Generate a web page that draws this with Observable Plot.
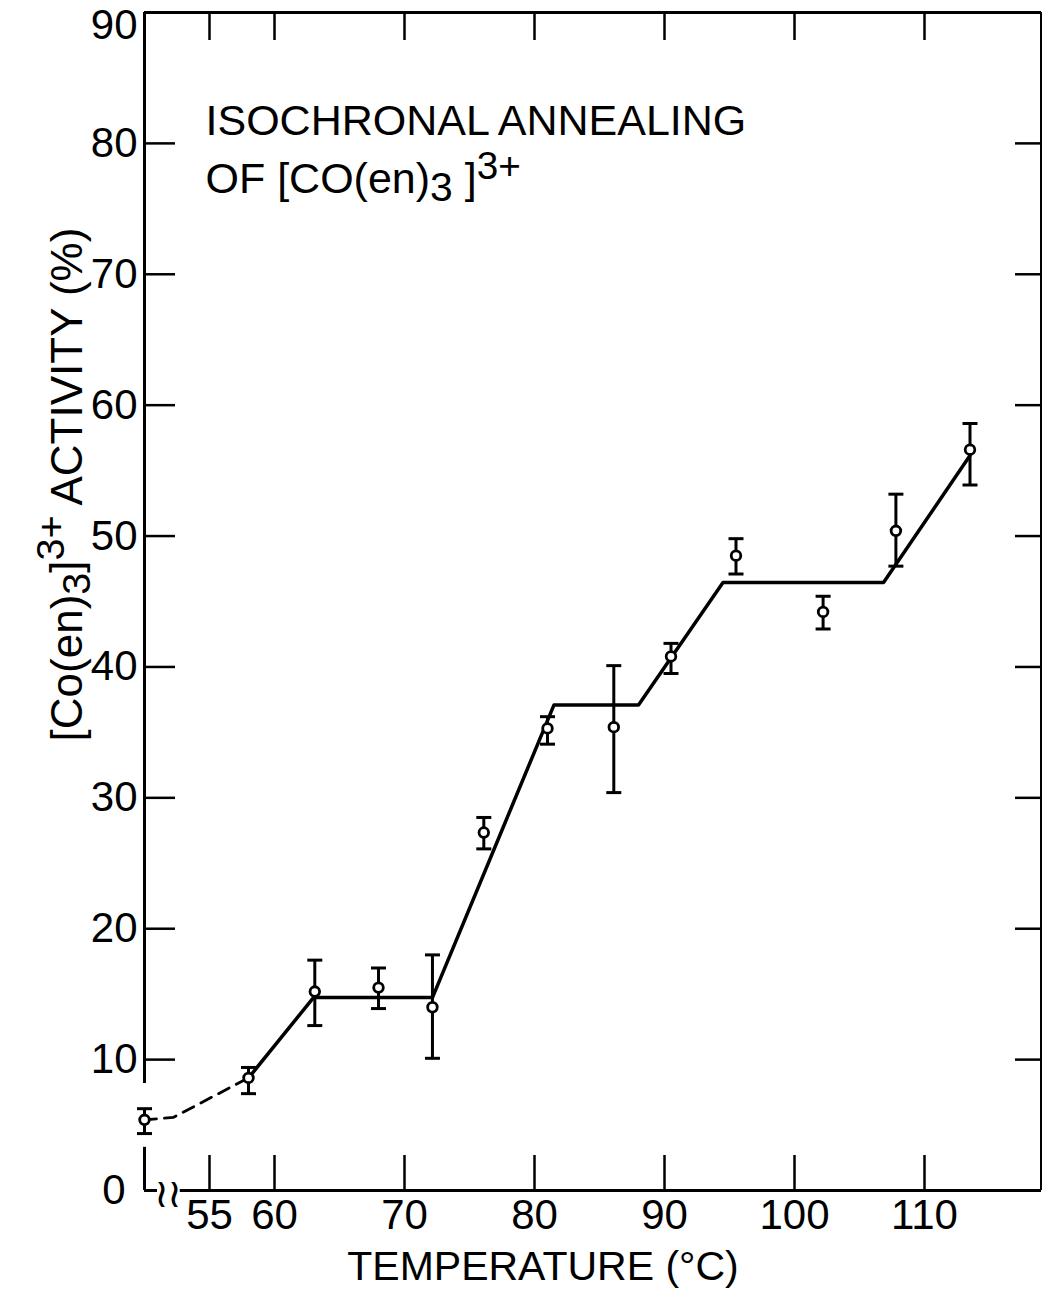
<!DOCTYPE html>
<html><head><meta charset="utf-8">
<script src="https://cdn.jsdelivr.net/npm/d3@7"></script>
<script src="https://cdn.jsdelivr.net/npm/@observablehq/plot@0.6"></script>
<style>
body{margin:0;background:#fff;}
#chart svg{display:block;overflow:visible}
</style></head><body><div id="chart"></div>
<script>
// Data
const temperature = [50, 58.0, 63.1, 68.0, 72.15, 76.1, 81.0, 86.1, 90.5, 95.5, 102.2, 107.8, 113.5];
const activity    = [5.4, 8.6, 15.2, 15.5, 14.0, 27.35, 35.3, 35.4, 40.8, 48.5, 44.2, 50.4, 56.6];
const errLow      = [4.35, 7.4, 12.6, 13.9, 10.1, 26.1, 34.1, 30.4, 39.5, 47.1, 42.9, 47.7, 53.9];
const errHigh     = [6.25, 9.4, 17.6, 17.0, 18.0, 28.5, 36.2, 40.1, 41.8, 49.8, 45.4, 53.2, 58.6];
const fitT = [58.0, 63.0, 72.15, 81.5, 88.0, 94.5, 106.85, 113.5];
const fitA = [8.6, 14.74, 14.74, 37.1, 37.1, 46.45, 46.45, 56.15];
const dashT = [50, 52.2, 58.0];
const dashA = [5.4, 5.58, 8.6];
const xTicks = [55, 60, 70, 80, 90, 100, 110];
const yTicks = [10, 20, 30, 40, 50, 60, 70, 80];
const xDomain = [50, 119];
const yDomain = [0, 90];
const leftAxisSegments = [[8.17, 90], [0, 3.3]];
const bottomAxisSegments = [[50, 51.0], [52.75, 119]];
const breakMarks = [51.3, 52.3];
const titleLine1 = "ISOCHRONAL ANNEALING";
const titleLine2 = "OF [CO(en)3]3+";
const yLabel = "[Co(en)3]3+ ACTIVITY (%)";
const xLabel = "TEMPERATURE (°C)";

const points = temperature.map((t, i) => ({T: t, A: activity[i], lo: errLow[i], hi: errHigh[i]}));
const fit = fitT.map((t, i) => ({T: t, A: fitA[i]}));
const dash = dashT.map((t, i) => ({T: t, A: dashA[i]}));

const capSymbol = {draw(context, size) { const w = Math.sqrt(size / Math.PI); context.moveTo(-w, 0); context.lineTo(w, 0); }};

const pxX = 897 / (xDomain[1] - xDomain[0]);
const pxY = 1178 / (yDomain[1] - yDomain[0]);

const chart = Plot.plot({
  width: 1042, height: 1290,
  marginLeft: 144, marginRight: 1, marginTop: 12, marginBottom: 100,
  x: {domain: xDomain},
  y: {domain: yDomain},
  style: {fontFamily: "'Liberation Sans', Arial, sans-serif", background: "white", color: "black"},
  marks: [
    // frame
    Plot.ruleY([yDomain[1]], {x1: xDomain[0], x2: xDomain[1], stroke: "black", strokeWidth: 3}),
    Plot.ruleX([xDomain[1]], {y1: yDomain[0], y2: yDomain[1], stroke: "black", strokeWidth: 3}),
    Plot.ruleX(leftAxisSegments, {x: () => xDomain[0], y1: d => d[0], y2: d => d[1], stroke: "black", strokeWidth: 3}),
    Plot.ruleY(bottomAxisSegments, {y: () => 0, x1: d => d[0], x2: d => d[1], stroke: "black", strokeWidth: 3}),
    Plot.text(breakMarks, {x: d => d, y: () => 0, text: () => "≀", fontSize: 40, fontFamily: "DejaVu Sans", dy: 4}),
    // inward ticks
    Plot.ruleX(xTicks, {x: d => d, y1: 0, y2: 35 / pxY, stroke: "black", strokeWidth: 2.5}),
    Plot.ruleX(xTicks, {x: d => d, y1: yDomain[1] - 28 / pxY, y2: yDomain[1], stroke: "black", strokeWidth: 2.5}),
    Plot.ruleY(yTicks, {y: d => d, x1: xDomain[0], x2: xDomain[0] + 31 / pxX, stroke: "black", strokeWidth: 2.5}),
    Plot.ruleY(yTicks, {y: d => d, x1: xDomain[1] - 26 / pxX, x2: xDomain[1], stroke: "black", strokeWidth: 2.5}),
    // tick labels
    Plot.axisX({ticks: xTicks, tickSize: 0, tickPadding: 9, fontSize: 42, label: null}),
    Plot.axisY({ticks: yTicks, tickSize: 0, tickPadding: 7, fontSize: 42, label: null}),
    Plot.axisY({ticks: [0], tickSize: 0, tickPadding: 19, fontSize: 42, label: null}),
    Plot.axisY({ticks: [90], tickSize: 0, tickPadding: 7, fontSize: 42, label: null, dy: 13}),
    // axis labels
    Plot.text([xLabel], {frameAnchor: "bottom", dx: -50, dy: 76, lineAnchor: "middle", fontSize: 41}),
    Plot.text([yLabel], {frameAnchor: "left", textAnchor: "middle", dx: -77, dy: -117, rotate: -90, lineAnchor: "middle", fontSize: 44}),
    // title
    Plot.text([titleLine1], {frameAnchor: "top-left", dx: 61, dy: 109, textAnchor: "start", lineAnchor: "middle", fontSize: 43}),
    Plot.text([titleLine2], {frameAnchor: "top-left", dx: 61, dy: 167, textAnchor: "start", lineAnchor: "middle", fontSize: 43}),
    // fitted lines
    Plot.line(dash, {x: "T", y: "A", stroke: "black", strokeWidth: 2.8, strokeDasharray: "12,8"}),
    Plot.line(fit, {x: "T", y: "A", stroke: "black", strokeWidth: 3.5}),
    // error bars
    Plot.ruleX(points, {x: "T", y1: "lo", y2: "hi", stroke: "black", strokeWidth: 3}),
    Plot.dot(points, {x: "T", y: "lo", symbol: capSymbol, r: 7.5, stroke: "black", strokeWidth: 3, fill: "none"}),
    Plot.dot(points, {x: "T", y: "hi", symbol: capSymbol, r: 7.5, stroke: "black", strokeWidth: 3, fill: "none"}),
    Plot.dot(points, {x: "T", y: "A", r: 4.8, fill: "white", stroke: "black", strokeWidth: 2.8})
  ]
});
document.getElementById("chart").appendChild(chart);

// chemical sub/superscripts as tspans
function richify(str, parts) {
  d3.select(chart).selectAll("text").each(function() {
    if (this.textContent !== str) return;
    const el = d3.select(this);
    el.text(null);
    let shift = 0;
    for (const [t, s, size] of parts) {
      const sp = el.append("tspan").text(t);
      if (s !== shift) sp.attr("dy", (s - shift) + "em");
      if (size) sp.attr("font-size", size);
      shift = s;
    }
  });
}
richify(titleLine2, [["OF [CO(en)", 0], ["3", 0.2, "0.95em"], [" ]", 0], ["3+", -0.36, "0.9em"]]);
richify(yLabel, [["[Co(en)", 0], ["3", 0.22, "0.9em"], ["]", 0], ["3+", -0.42, "0.9em"], [" ACTIVITY (%)", 0]]);
</script></body></html>
